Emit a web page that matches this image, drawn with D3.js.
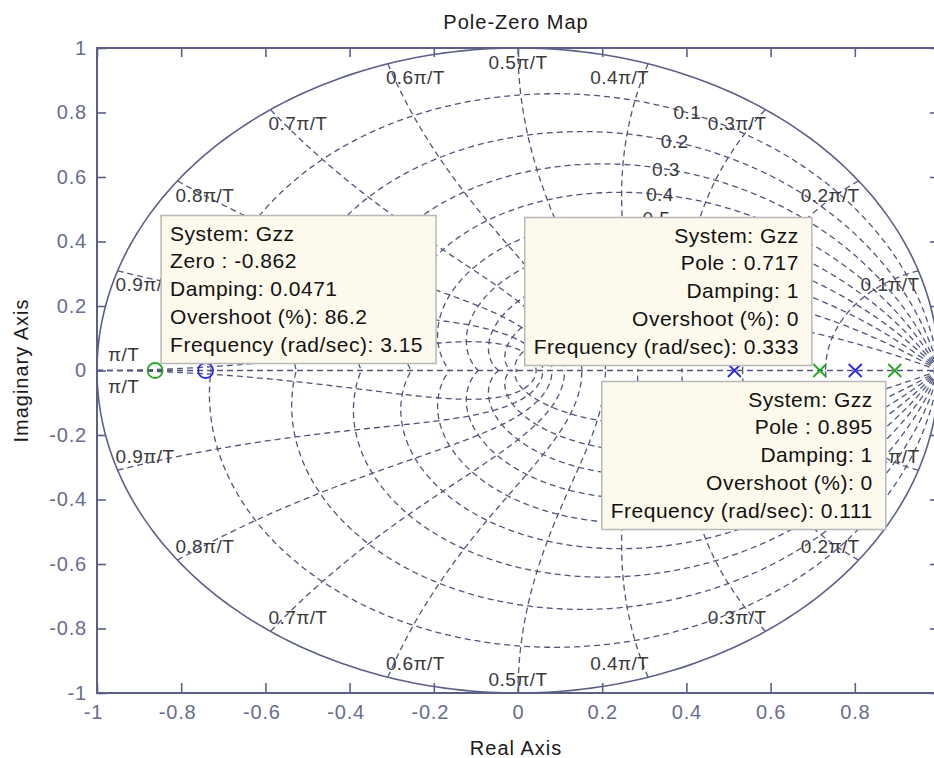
<!DOCTYPE html>
<html><head><meta charset="utf-8">
<script src="https://cdn.jsdelivr.net/npm/d3@7"></script>
<style>
body{margin:0;background:#fff;}
svg{display:block;font-family:"Liberation Sans",Arial,Helvetica,sans-serif;}
</style>
</head><body>
<svg id="c" width="934" height="758"></svg>
<script>
// ---------------- data ----------------
const xTicks = [-1, -0.8, -0.6, -0.4, -0.2, 0, 0.2, 0.4, 0.6, 0.8];
const xTickLabels = ["-1", "-0.8", "-0.6", "-0.4", "-0.2", "0", "0.2", "0.4", "0.6", "0.8"];
const yTicks = [-1, -0.8, -0.6, -0.4, -0.2, 0, 0.2, 0.4, 0.6, 0.8, 1];
const yTickLabels = ["-1", "-0.8", "-0.6", "-0.4", "-0.2", "0", "0.2", "0.4", "0.6", "0.8", "1"];
const dampingValues = [0.1, 0.2, 0.3, 0.4, 0.5, 0.6, 0.7, 0.8, 0.9];
const dampingLabels = ["0.1", "0.2", "0.3", "0.4", "0.5", "0.6", "0.7", "0.8", "0.9"];
const freqFactors = [0.1, 0.2, 0.3, 0.4, 0.5, 0.6, 0.7, 0.8, 0.9, 1.0];
const freqLabels = ["0.1π/T", "0.2π/T", "0.3π/T", "0.4π/T", "0.5π/T", "0.6π/T", "0.7π/T", "0.8π/T", "0.9π/T", "π/T"];
const greenZeros = [-0.862];
const greenPoles = [0.717, 0.895];
const blueZeros = [-0.742];
const bluePoles = [0.514, 0.801];
const tipSystem = ["Gzz", "Gzz", "Gzz"];
const tipKind = ["Zero", "Pole", "Pole"];
const tipValue = ["-0.862", "0.717", "0.895"];
const tipDamping = ["0.0471", "1", "1"];
const tipOvershoot = ["86.2", "0", "0"];
const tipFrequency = ["3.15", "0.333", "0.111"];

// ---------------- layout ----------------
const svg = d3.select("#c");
const x = d3.scaleLinear().domain([-1, 1]).range([97, 939]);
const y = d3.scaleLinear().domain([-1, 1]).range([693, 48]);
const axisColor = "#5c6088";
const gridColor = "#51557c";
const tickTextColor = "#686c8f";

svg.append("defs").append("clipPath").attr("id", "clip")
  .append("rect").attr("x", x(-1)).attr("y", y(1))
  .attr("width", x(1) - x(-1)).attr("height", y(-1) - y(1));

const plot = svg.append("g").attr("clip-path", "url(#clip)");
const line = d3.line().x(d => x(d[0])).y(d => y(d[1]));
const dash = "6,4";

// damping curves (constant zeta), theta in [0, pi]
dampingValues.forEach(z => {
  const m = z / Math.sqrt(1 - z * z);
  const up = d3.range(0, 201).map(i => {
    const t = Math.PI * i / 200, r = Math.exp(-m * t);
    return [r * Math.cos(t), r * Math.sin(t)];
  });
  [1, -1].forEach(s => {
    plot.append("path").datum(up.map(p => [p[0], s * p[1]])).attr("d", line)
      .attr("fill", "none").attr("stroke", gridColor).attr("stroke-width", 1.3)
      .attr("stroke-dasharray", dash);
  });
});

// natural-frequency curves
freqFactors.forEach(f => {
  const wn = f * Math.PI;
  const up = d3.range(0, 201).map(i => {
    const z = i / 200, r = Math.exp(-z * wn), a = wn * Math.sqrt(1 - z * z);
    return [r * Math.cos(a), r * Math.sin(a)];
  });
  [1, -1].forEach(s => {
    plot.append("path").datum(up.map(p => [p[0], s * p[1]])).attr("d", line)
      .attr("fill", "none").attr("stroke", gridColor).attr("stroke-width", 1.3)
      .attr("stroke-dasharray", dash);
  });
});

// real axis dashed line
plot.append("path").datum([[-1, 0], [1, 0]]).attr("d", line)
  .attr("fill", "none").attr("stroke", gridColor).attr("stroke-width", 1.4)
  .attr("stroke-dasharray", dash);

// unit circle (zeta = 0)
plot.append("path").datum(d3.range(0, 361).map(i => {
  const t = 2 * Math.PI * i / 360; return [Math.cos(t), Math.sin(t)];
})).attr("d", line).attr("fill", "none").attr("stroke", axisColor).attr("stroke-width", 1.6);

// damping labels
const gridText = svg.append("g").attr("font-size", 19).attr("letter-spacing", 0.4).attr("fill", "#3a3a3a");
dampingValues.forEach((z, i) => {
  const w = 1.11, r = Math.exp(-z * w), a = w * Math.sqrt(1 - z * z);
  gridText.append("text").attr("x", x(r * Math.cos(a))).attr("y", y(r * Math.sin(a)))
    .attr("dy", "0.35em").attr("text-anchor", "middle").text(dampingLabels[i]);
});

// frequency labels
freqFactors.forEach((f, i) => {
  const a = f * Math.PI;
  [1, -1].forEach(s => {
    const px = x(Math.cos(a)), py = y(s * Math.sin(a));
    let anchor = "middle", tx = px, ty = py + s * 14;
    if (f < 0.5) { anchor = "end"; tx = px + 1; }
    else if (f > 0.5) { anchor = "start"; tx = px - 2; }
    if (f === 1.0) { anchor = "start"; tx = px + 11; ty = py - s * 16; }
    gridText.append("text").attr("x", tx).attr("y", ty).attr("dy", "0.35em")
      .attr("text-anchor", anchor).text(freqLabels[i]);
  });
});

// markers
const mk = svg.append("g").attr("fill", "none").attr("stroke-width", 1.8);
function circles(vals, col) {
  vals.forEach(v => mk.append("circle").attr("cx", x(v)).attr("cy", y(0)).attr("r", 7.5).attr("stroke", col));
}
function crosses(vals, col) {
  vals.forEach(v => {
    const cx = x(v), cy = y(0), h = 6.5;
    mk.append("path").attr("d", `M${cx-h},${cy-h}L${cx+h},${cy+h}M${cx-h},${cy+h}L${cx+h},${cy-h}`).attr("stroke", col);
  });
}
circles(blueZeros, "#2a2ae6");
crosses(bluePoles, "#2a2ae6");
circles(greenZeros, "#25a625");
crosses(greenPoles, "#25a625");

// axes box
const ax = svg.append("g");
ax.append("rect").attr("x", x(-1)).attr("y", y(1)).attr("width", x(1) - x(-1)).attr("height", y(-1) - y(1))
  .attr("fill", "none").attr("stroke", axisColor).attr("stroke-width", 2);

function styleAxis(g) {
  g.select(".domain").remove();
  g.selectAll(".tick line").attr("stroke", axisColor).attr("stroke-width", 1.6);
  g.selectAll(".tick text").attr("fill", tickTextColor).attr("font-size", 20).attr("letter-spacing", 0.8)
    .attr("font-family", "Liberation Sans, Arial, sans-serif");
}
const fmtX = d => xTickLabels[xTicks.indexOf(d)];
const fmtY = d => yTickLabels[yTicks.indexOf(d)];
const gB = ax.append("g").attr("transform", `translate(0,${y(-1)})`)
  .call(d3.axisBottom(x).tickValues(xTicks).tickFormat(fmtX).tickSizeInner(-10).tickSizeOuter(0).tickPadding(12));
styleAxis(gB);
gB.selectAll(".tick text").attr("dx", d => d < 0 ? -4 : 0);
const gT = ax.append("g").attr("transform", `translate(0,${y(1)})`)
  .call(d3.axisTop(x).tickValues(xTicks).tickFormat("").tickSizeInner(-9).tickSizeOuter(0));
styleAxis(gT);
const gL = ax.append("g").attr("transform", `translate(${x(-1)},0)`)
  .call(d3.axisLeft(y).tickValues(yTicks).tickFormat(fmtY).tickSizeInner(-9).tickSizeOuter(0).tickPadding(10));
styleAxis(gL);
const gR = ax.append("g").attr("transform", `translate(${x(1)},0)`)
  .call(d3.axisRight(y).tickValues(yTicks).tickFormat("").tickSizeInner(-9).tickSizeOuter(0));
styleAxis(gR);

// titles
svg.append("text").attr("x", 516).attr("y", 29).attr("text-anchor", "middle")
  .attr("font-size", 20).attr("letter-spacing", 1).attr("fill", "#1a1a1a").text("Pole-Zero Map");
svg.append("text").attr("x", 516).attr("y", 755).attr("text-anchor", "middle")
  .attr("font-size", 20).attr("letter-spacing", 1).attr("fill", "#1a1a1a").text("Real Axis");
svg.append("text").attr("transform", `translate(28,${y(0)}) rotate(-90)`).attr("text-anchor", "middle")
  .attr("font-size", 20).attr("letter-spacing", 1).attr("fill", "#1a1a1a").text("Imaginary Axis");

// data tips
const tipAnchor = [
  {v: greenZeros[0], align: "left", dx: 6, dy: -7, vert: "above"},
  {v: greenPoles[0], align: "right", dx: -8, dy: -5, vert: "above"},
  {v: greenPoles[1], align: "right", dx: -9, dy: 11, vert: "below"}
];
const lineH = 27.8, boxH = 148;
tipAnchor.forEach((t, i) => {
  const lines = [
    `System: ${tipSystem[i]}`,
    `${tipKind[i]} : ${tipValue[i]}`,
    `Damping: ${tipDamping[i]}`,
    `Overshoot (%): ${tipOvershoot[i]}`,
    `Frequency (rad/sec): ${tipFrequency[i]}`
  ];
  const g = svg.append("g");
  const rect = g.append("rect").attr("fill", "#fdf9ec").attr("stroke", "#b8b8b8").attr("stroke-width", 1.5);
  const texts = lines.map(l => g.append("text").attr("font-size", 21).attr("letter-spacing", 0.5).attr("fill", "#111").text(l));
  const w = d3.max(texts, tx => tx.node().getComputedTextLength()) + 22;
  const px = x(t.v), py = y(0);
  const top = t.vert === "above" ? py + t.dy - boxH : py + t.dy;
  const left = t.align === "left" ? px + t.dx : px + t.dx - w;
  rect.attr("x", left).attr("y", top).attr("width", w).attr("height", boxH);
  texts.forEach((tx, k) => {
    tx.attr("y", top + 25 + k * lineH);
    if (t.align === "left") tx.attr("x", left + 9);
    else tx.attr("x", left + w - 13).attr("text-anchor", "end");
  });
});
</script>
</body></html>
